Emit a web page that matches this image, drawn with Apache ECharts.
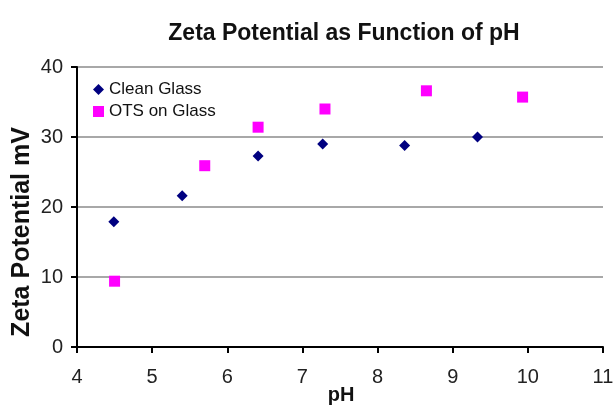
<!DOCTYPE html>
<html>
<head>
<meta charset="utf-8">
<script src="https://cdn.jsdelivr.net/npm/echarts@6/dist/echarts.min.js"></script>
<style>
  html, body { margin: 0; padding: 0; background: #fff; }
  #chart { width: 616px; height: 410px; }
</style>
</head>
<body>
<div id="chart"></div>
<script>
// values
const cleanPH = [4.49, 5.40, 6.41, 7.27, 8.36, 9.33];
const cleanZeta = [17.9, 21.6, 27.3, 29.0, 28.8, 30.0];
const otsPH = [4.50, 5.70, 6.41, 7.30, 8.65, 9.93];
const otsZeta = [9.4, 25.9, 31.4, 34.0, 36.6, 35.7];

const pairs = (xs, ys) => xs.map((x, i) => [x, ys[i]]);

const font = "Arial, 'Liberation Sans', sans-serif";

// axis titles drawn as title / graphic text (axis "name" hid the axis lines in v6)
const options = {
  animation: false,
  title: [
    {
      text: "Zeta Potential as Function of pH",
      left: 339,
      textAlign: "center",
      top: 17,
      textStyle: { fontFamily: font, fontSize: 23, fontWeight: "bold", color: "#111" }
    },
    {
      text: "pH",
      left: 341,
      textAlign: "center",
      top: 385,
      padding: 0,
      textStyle: { fontFamily: font, fontSize: 20, fontWeight: "bold", color: "#111" }
    }
  ],
  graphic: [
    {
      type: "text",
      x: 22,
      y: 232,
      rotation: Math.PI / 2,
      style: {
        text: "Zeta Potential mV",
        align: "center",
        verticalAlign: "middle",
        font: "bold 25px Arial, 'Liberation Sans', sans-serif",
        fill: "#111"
      }
    }
  ],
  legend: {
    orient: "vertical",
    left: 88,
    top: 76,
    itemWidth: 11,
    itemHeight: 11,
    itemGap: 5,
    textStyle: { fontFamily: font, fontSize: 17, color: "#111" },
    data: ["Clean Glass", "OTS on Glass"]
  },
  grid: {
    left: 77,
    right: 13,
    top: 67,
    bottom: 63,
    outerBoundsMode: "none"
  },
  xAxis: {
    type: "value",
    min: 4,
    max: 11,
    interval: 1,
    axisLine: { show: true, onZero: false, lineStyle: { color: "black", width: 2 } },
    axisTick: { show: true, length: 6, lineStyle: { color: "black", width: 2 } },
    axisLabel: { fontFamily: font, fontSize: 20, color: "#222", margin: 20 },
    splitLine: { show: false }
  },
  yAxis: {
    type: "value",
    min: 0,
    max: 40,
    interval: 10,
    axisLine: { show: true, lineStyle: { color: "black", width: 2 } },
    axisTick: { show: true, length: 6, lineStyle: { color: "black", width: 2 } },
    axisLabel: { fontFamily: font, fontSize: 20, color: "#222", margin: 14 },
    splitLine: { lineStyle: { color: "#a8a8a8", width: 2 } }
  },
  series: [
    {
      name: "Clean Glass",
      type: "scatter",
      symbol: "diamond",
      symbolSize: 11,
      itemStyle: { color: "#000080", opacity: 1 },
      data: pairs(cleanPH, cleanZeta)
    },
    {
      name: "OTS on Glass",
      type: "scatter",
      symbol: "rect",
      symbolSize: 11,
      itemStyle: { color: "#ff00ff", opacity: 1 },
      data: pairs(otsPH, otsZeta)
    }
  ]
};

const myChart = echarts.init(document.getElementById("chart"));
myChart.setOption(options);
</script>
</body>
</html>
